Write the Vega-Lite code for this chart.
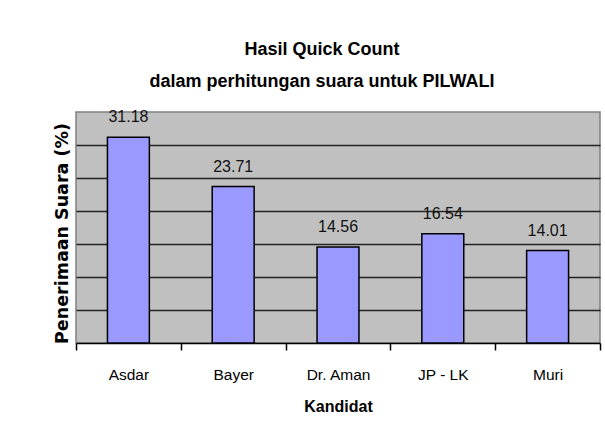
{
  "$schema": "https://vega.github.io/schema/vega-lite/v6.json",
  "autosize": "none",
  "width": 524,
  "height": 231,
  "padding": {"left": 76, "top": 112, "right": 5, "bottom": 85},
  "background": "white",
  "data": {
    "values": [
      {"kandidat": "Asdar", "suara": 31.18},
      {"kandidat": "Bayer", "suara": 23.71},
      {"kandidat": "Dr. Aman", "suara": 14.56},
      {"kandidat": "JP - LK", "suara": 16.54},
      {"kandidat": "Muri", "suara": 14.01}
    ]
  },
  "title": {
    "text": ["Hasil Quick Count", "dalam perhitungan suara untuk PILWALI"],
    "font": "Liberation Sans",
    "fontSize": 18,
    "fontWeight": "bold",
    "color": "black",
    "lineHeight": 32,
    "anchor": "middle",
    "dx": -16,
    "offset": 18
  },
  "encoding": {
    "x": {
      "field": "kandidat",
      "type": "nominal",
      "sort": null,
      "scale": {"paddingInner": 0, "paddingOuter": 0},
      "axis": {
        "title": "Kandidat",
        "titleFont": "Liberation Sans",
        "titleFontSize": 16,
        "titleFontWeight": "bold",
        "titleColor": "black",
        "titlePadding": 16,
        "labelFont": "Liberation Sans",
        "labelFontSize": 15.5,
        "labelColor": "black",
        "labelAngle": 0,
        "labelPadding": 17,
        "tickBand": "extent",
        "tickColor": "black",
        "tickSize": 7,
        "tickWidth": 1.5,
        "domainColor": "black",
        "domainWidth": 1.5,
        "grid": false
      }
    },
    "y": {
      "field": "suara",
      "type": "quantitative",
      "scale": {"domain": [0, 35], "nice": false},
      "axis": {
        "title": "Penerimaan Suara (%)",
        "titleFont": "DejaVu Sans",
        "titleFontSize": 17.5,
        "titleFontWeight": "bold",
        "titleColor": "black",
        "titlePadding": 5,
        "titleY": 121,
        "labels": false,
        "ticks": false,
        "domain": false,
        "grid": true,
        "values": [5, 10, 15, 20, 25, 30],
        "gridColor": "#222222",
        "gridWidth": 1.6,
        "gridOpacity": 1
      }
    }
  },
  "layer": [
    {
      "mark": {
        "type": "bar",
        "width": {"band": 0.4},
        "fill": "#9999ff",
        "stroke": "black",
        "strokeWidth": 1.5
      }
    },
    {
      "mark": {
        "type": "text",
        "baseline": "alphabetic",
        "dy": -15,
        "font": "Liberation Sans",
        "fontSize": 16,
        "color": "#111111"
      },
      "encoding": {
        "text": {"field": "suara", "type": "quantitative", "format": ".2f"}
      }
    }
  ],
  "config": {
    "view": {"fill": "#c0c0c0", "stroke": "#808080", "strokeWidth": 1.5}
  }
}
